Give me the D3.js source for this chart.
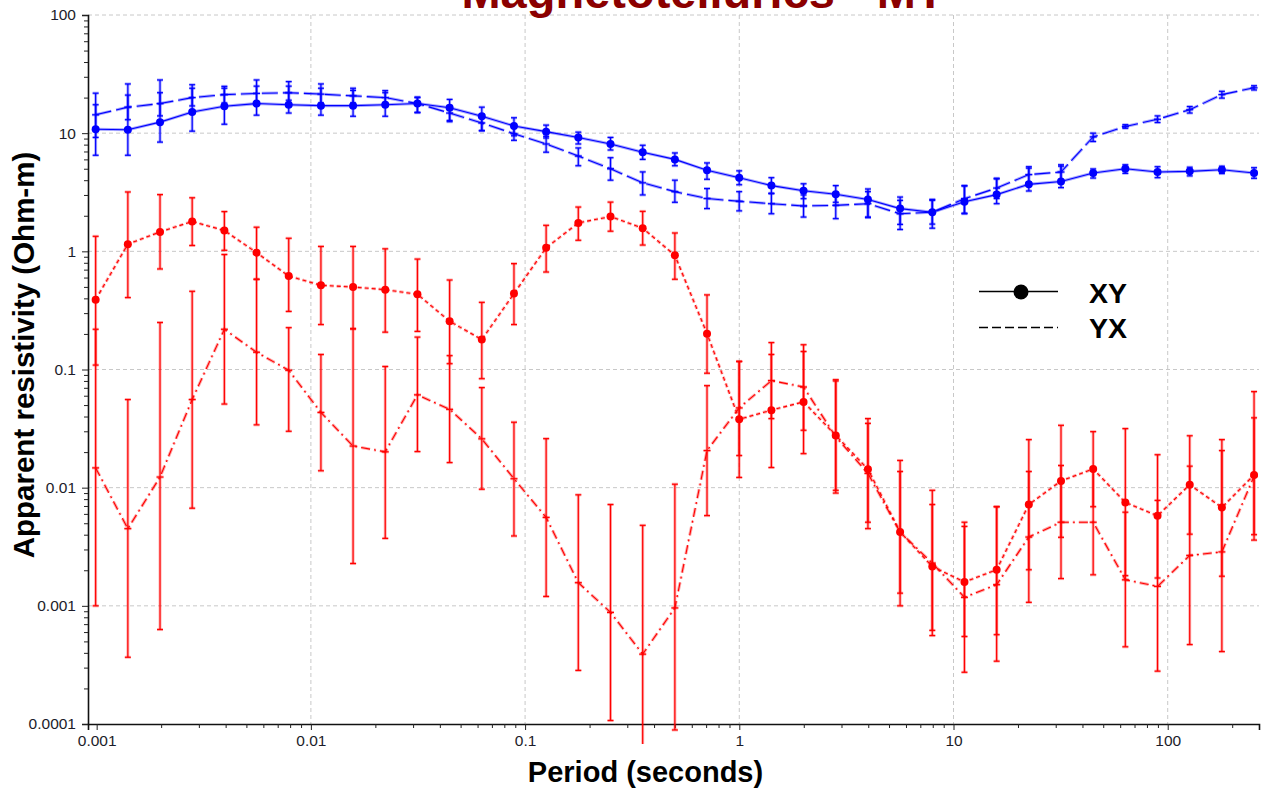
<!DOCTYPE html>
<html>
<head>
<meta charset="utf-8">
<script src="https://cdn.jsdelivr.net/npm/d3@7"></script>
<style>
  body { margin: 0; background: #fff; }
  svg { display: block; font-family: "Liberation Sans", Arial, sans-serif; }
</style>
</head>
<body>
<svg id="chart" width="1261" height="790"></svg>
<script>
// periods (s)
var periods = [0.000989, 0.001398, 0.001976, 0.002792, 0.003946, 0.005577, 0.00788, 0.01114,
  0.01574, 0.02224, 0.03144, 0.04443, 0.06279, 0.08874, 0.1254, 0.1772, 0.2505, 0.354,
  0.5003, 0.7069, 0.9991, 1.412, 1.995, 2.82, 3.986, 5.633, 7.961, 11.25, 15.9, 22.47,
  31.76, 44.88, 63.42, 89.64, 126.7, 179.0, 253.0];

// blue XY
var xyBlue   = [10.8, 10.7, 12.4, 15.1, 16.9, 17.8, 17.4, 17.1, 17.1, 17.4, 17.8, 16.4, 13.9, 11.5, 10.3, 9.2, 8.1, 6.9, 6.0, 4.85, 4.2, 3.6, 3.26, 3.04, 2.75, 2.3, 2.14, 2.63, 3.02, 3.69, 3.9, 4.6, 5.0, 4.69, 4.75, 4.9, 4.6];
var xyBlueLo = [6.5, 6.5, 8.4, 10.4, 11.9, 14.2, 14.8, 14.2, 13.9, 13.9, 14.9, 12.8, 10.5, 9.5, 9.1, 8.1, 7.2, 6.0, 5.3, 4.07, 3.66, 3.08, 2.79, 2.6, 1.93, 1.69, 1.57, 2.08, 2.53, 3.24, 3.46, 4.17, 4.57, 4.2, 4.35, 4.55, 4.15];
var xyBlueHi = [21.8, 26.1, 28.2, 25.7, 24.9, 28.2, 27.3, 26.1, 24.0, 22.9, 20.2, 19.3, 16.6, 13.5, 11.7, 10.2, 9.2, 7.9, 6.8, 5.6, 4.8, 4.2, 3.73, 3.6, 3.37, 2.88, 2.75, 3.57, 4.15, 5.06, 5.26, 4.98, 5.4, 5.2, 5.15, 5.25, 5.1];

// blue YX
var yxBlue   = [14.3, 16.6, 17.8, 20.0, 21.2, 21.7, 22.0, 21.4, 20.7, 20.0, 17.8, 14.8, 12.2, 9.9, 8.1, 6.4, 5.0, 3.8, 3.2, 2.8, 2.65, 2.53, 2.42, 2.45, 2.53, 2.08, 2.14, 2.79, 3.43, 4.46, 4.69, 9.3, 11.4, 13.1, 15.8, 21.2, 24.2];
var yxBlueLo = [9.2, 13.0, 14.0, 17.0, 18.0, 18.0, 19.0, 18.0, 18.0, 18.0, 15.0, 12.5, 10.5, 8.7, 6.9, 5.3, 4.0, 3.0, 2.6, 2.3, 2.2, 2.08, 1.95, 1.89, 1.95, 1.53, 1.7, 2.1, 2.8, 3.8, 3.9, 8.5, 11.0, 12.3, 14.8, 19.8, 23.2];
var yxBlueHi = [17.4, 21.0, 22.0, 24.0, 24.0, 25.0, 25.0, 24.0, 23.0, 22.0, 20.0, 17.0, 14.0, 11.5, 9.4, 7.5, 6.2, 4.7, 4.0, 3.4, 3.2, 3.1, 3.0, 3.1, 3.2, 2.7, 2.7, 3.6, 4.1, 5.2, 5.4, 10.0, 11.8, 14.0, 16.8, 22.6, 25.2];

// red XY
var xyRed   = [0.39, 1.15, 1.46, 1.79, 1.5, 0.975, 0.618, 0.516, 0.499, 0.474, 0.433, 0.256, 0.179, 0.439, 1.07, 1.74, 1.97, 1.57, 0.925, 0.201, 0.0379, 0.0453, 0.0532, 0.0277, 0.0143, 0.00422, 0.00215, 0.00159, 0.00202, 0.0072, 0.0114, 0.0144, 0.0075, 0.00578, 0.0106, 0.0068, 0.0128];
var xyRedLo = [0.109, 0.406, 0.709, 1.12, 1.02, 0.58, 0.31, 0.24, 0.22, 0.207, 0.21, 0.112, 0.0836, 0.24, 0.668, 1.24, 1.48, 1.13, 0.58, 0.093, 0.0122, 0.0148, 0.0194, 0.0095, 0.0045, 0.001, 0.00056, 0.000274, 0.00034, 0.00107, 0.0038, 0.0069, 0.0018, 0.00172, 0.00404, 0.00178, 0.004];
var xyRedHi = [1.34, 3.18, 3.02, 2.84, 2.17, 1.6, 1.29, 1.1, 1.1, 1.05, 0.86, 0.572, 0.37, 0.787, 1.66, 2.37, 2.61, 2.18, 1.43, 0.428, 0.117, 0.169, 0.162, 0.082, 0.0384, 0.017, 0.0095, 0.0051, 0.0069, 0.0255, 0.0337, 0.0298, 0.0316, 0.019, 0.0275, 0.0255, 0.039];

// red YX
var yxRed   = [0.0147, 0.0045, 0.0123, 0.0557, 0.219, 0.14, 0.0985, 0.0433, 0.0225, 0.0201, 0.061, 0.046, 0.0259, 0.0119, 0.0056, 0.00157, 0.00088, 0.00039, 0.00096, 0.0206, 0.0473, 0.0805, 0.0711, 0.027, 0.0132, 0.0042, 0.0023, 0.00118, 0.00151, 0.00382, 0.0051, 0.0051, 0.00166, 0.00146, 0.00267, 0.00286, 0.0125];
var yxRedLo = [0.001, 0.000367, 0.00063, 0.0067, 0.051, 0.034, 0.03, 0.0139, 0.00228, 0.00372, 0.0202, 0.0163, 0.0097, 0.0039, 0.0012, 0.000284, 0.000107, 0.00005, 0.000089, 0.0058, 0.0187, 0.0384, 0.0306, 0.009, 0.0051, 0.00128, 0.00062, 0.00055, 0.00057, 0.00202, 0.0017, 0.00183, 0.00045, 0.00028, 0.00047, 0.00041, 0.0036];
var yxRedHi = [0.219, 0.0557, 0.25, 0.459, 0.94, 0.58, 0.226, 0.134, 0.222, 0.106, 0.188, 0.131, 0.0703, 0.0358, 0.026, 0.0087, 0.0072, 0.0048, 0.0107, 0.073, 0.117, 0.134, 0.142, 0.08, 0.035, 0.0137, 0.0072, 0.0047, 0.0069, 0.0137, 0.0154, 0.0142, 0.0062, 0.0078, 0.0152, 0.0206, 0.065];

var xTicks = [0.001, 0.01, 0.1, 1, 10, 100];
var xTickLabels = ["0.001", "0.01", "0.1", "1", "10", "100"];
var yTicks = [0.0001, 0.001, 0.01, 0.1, 1, 10, 100];
var yTickLabels = ["0.0001", "0.001", "0.01", "0.1", "1", "10", "100"];

var svg = d3.select("#chart");

var x = d3.scaleLog().domain([0.000911, 266.8]).range([88, 1259]);
var y = d3.scaleLog().domain([0.0001, 100]).range([724, 15]);

// minor tick values 2..9 per decade
function minors(scale) {
  var dom = scale.domain(), out = [];
  for (var e = -5; e <= 3; e++) {
    for (var m = 2; m <= 9; m++) {
      var v = m * Math.pow(10, e);
      if (v > dom[0] && v < dom[1]) out.push(v);
    }
  }
  return out;
}

// grid
svg.append("g").selectAll("line")
  .data(yTicks.slice(1))
  .enter().append("line")
    .attr("x1", 88).attr("x2", 1259)
    .attr("y1", function(d){ return y(d); })
    .attr("y2", function(d){ return y(d); })
    .attr("stroke", "#c8c8c8").attr("stroke-dasharray", "4,3");

svg.append("g").selectAll("line")
  .data(xTicks.slice(1))
  .enter().append("line")
    .attr("y1", 15).attr("y2", 724)
    .attr("x1", function(d){ return x(d); })
    .attr("x2", function(d){ return x(d); })
    .attr("stroke", "#c8c8c8").attr("stroke-dasharray", "4,3");

// axes
var xAxis = svg.append("g").attr("transform", "translate(0,724)")
  .call(d3.axisBottom(x).tickValues(xTicks).tickSize(6).tickPadding(5)
    .tickFormat(function(d, i){ return xTickLabels[i]; }));
svg.append("g").attr("transform", "translate(0,724)")
  .call(d3.axisBottom(x).tickValues(minors(x)).tickSize(4).tickFormat(""))
  .select(".domain").remove();

var yAxis = svg.append("g").attr("transform", "translate(88,0)")
  .call(d3.axisLeft(y).tickValues(yTicks).tickSize(6).tickPadding(6)
    .tickFormat(function(d, i){ return yTickLabels[i]; }));
svg.append("g").attr("transform", "translate(88,0)")
  .call(d3.axisLeft(y).tickValues(minors(y)).tickSize(4).tickFormat(""))
  .select(".domain").remove();

svg.selectAll(".domain").attr("stroke", "#111").attr("stroke-width", 1.6);
svg.selectAll(".tick line").attr("stroke", "#222");
svg.selectAll(".tick text").attr("font-size", 15.5).attr("fill", "#1c1c2a")
  .attr("font-family", "Liberation Sans, Arial, sans-serif");

// clip for the data
svg.append("clipPath").attr("id", "plotclip")
  .append("rect").attr("x", 80).attr("y", 0).attr("width", 1190).attr("height", 744);

var plot = svg.append("g").attr("clip-path", "url(#plotclip)");

var series = [
  { v: yxRed, lo: yxRedLo, hi: yxRedHi, color: "#ff0000", dash: "9,4,2,4", dot: false },
  { v: xyRed, lo: xyRedLo, hi: xyRedHi, color: "#ff0000", dash: "4,3", dot: true },
  { v: yxBlue, lo: yxBlueLo, hi: yxBlueHi, color: "#0000ff", dash: "16,5", dot: false },
  { v: xyBlue, lo: xyBlueLo, hi: xyBlueHi, color: "#0000ff", dash: null, dot: true }
];

var line = d3.line()
  .x(function(d, i){ return x(periods[i]); })
  .y(function(d){ return y(d); });

series.forEach(function(s) {
  var g = plot.append("g");

  // error bars with a pale halo
  [[3, 0.3], [1.2, 1]].forEach(function(w) {
    var eb = g.append("g")
      .attr("stroke", s.color).attr("stroke-width", w[0]).attr("stroke-opacity", w[1])
      .attr("fill", "none");
    periods.forEach(function(p, i) {
      var cx = x(p);
      eb.append("line").attr("x1", cx).attr("x2", cx)
        .attr("y1", y(s.lo[i])).attr("y2", y(s.hi[i]));
      eb.append("line").attr("x1", cx - 3).attr("x2", cx + 3)
        .attr("y1", y(s.lo[i])).attr("y2", y(s.lo[i]));
      eb.append("line").attr("x1", cx - 3).attr("x2", cx + 3)
        .attr("y1", y(s.hi[i])).attr("y2", y(s.hi[i]));
      if (!s.dot) {
        eb.append("line").attr("x1", cx - 3.5).attr("x2", cx + 3.5)
          .attr("y1", y(s.v[i])).attr("y2", y(s.v[i]));
      }
    });
  });

  // the curve itself
  g.append("path").datum(s.v)
    .attr("d", line)
    .attr("fill", "none")
    .attr("stroke", s.color)
    .attr("stroke-opacity", 0.35)
    .attr("stroke-width", 3)
    .attr("stroke-dasharray", s.dash);
  g.append("path").datum(s.v)
    .attr("d", line)
    .attr("fill", "none")
    .attr("stroke", s.color)
    .attr("stroke-width", 1.1)
    .attr("stroke-dasharray", s.dash);

  if (s.dot) {
    g.selectAll("circle").data(s.v).enter().append("circle")
      .attr("cx", function(d, i){ return x(periods[i]); })
      .attr("cy", function(d){ return y(d); })
      .attr("r", 4)
      .attr("fill", s.color);
  }
});

// legend
var lg = svg.append("g");
lg.append("line").attr("x1", 979).attr("x2", 1058).attr("y1", 291.5).attr("y2", 291.5)
  .attr("stroke", "#000").attr("stroke-width", 1.5);
lg.append("circle").attr("cx", 1021).attr("cy", 292).attr("r", 7.5).attr("fill", "#000");
lg.append("line").attr("x1", 979).attr("x2", 1058).attr("y1", 327.5).attr("y2", 327.5)
  .attr("stroke", "#000").attr("stroke-width", 1.3).attr("stroke-dasharray", "9,4");
lg.append("text").attr("x", 1089).attr("y", 302.5).text("XY")
  .attr("font-size", 28.5).attr("font-weight", "bold");
lg.append("text").attr("x", 1089).attr("y", 338).text("YX")
  .attr("font-size", 28.5).attr("font-weight", "bold");

// titles
svg.append("text").attr("x", 703).attr("y", 8).attr("text-anchor", "middle")
  .attr("font-size", 47).attr("font-weight", "bold").attr("fill", "#8b0000")
  .text("Magnetotellurics - MT");

svg.append("text").attr("x", 645.5).attr("y", 781.5).attr("text-anchor", "middle")
  .attr("font-size", 29).attr("font-weight", "bold").attr("fill", "#000")
  .text("Period (seconds)");

svg.append("text").attr("transform", "translate(33.5,355) rotate(-90)")
  .attr("text-anchor", "middle")
  .attr("font-size", 29.5).attr("font-weight", "bold").attr("fill", "#000")
  .text("Apparent resistivity (Ohm-m)");
</script>
</body>
</html>
